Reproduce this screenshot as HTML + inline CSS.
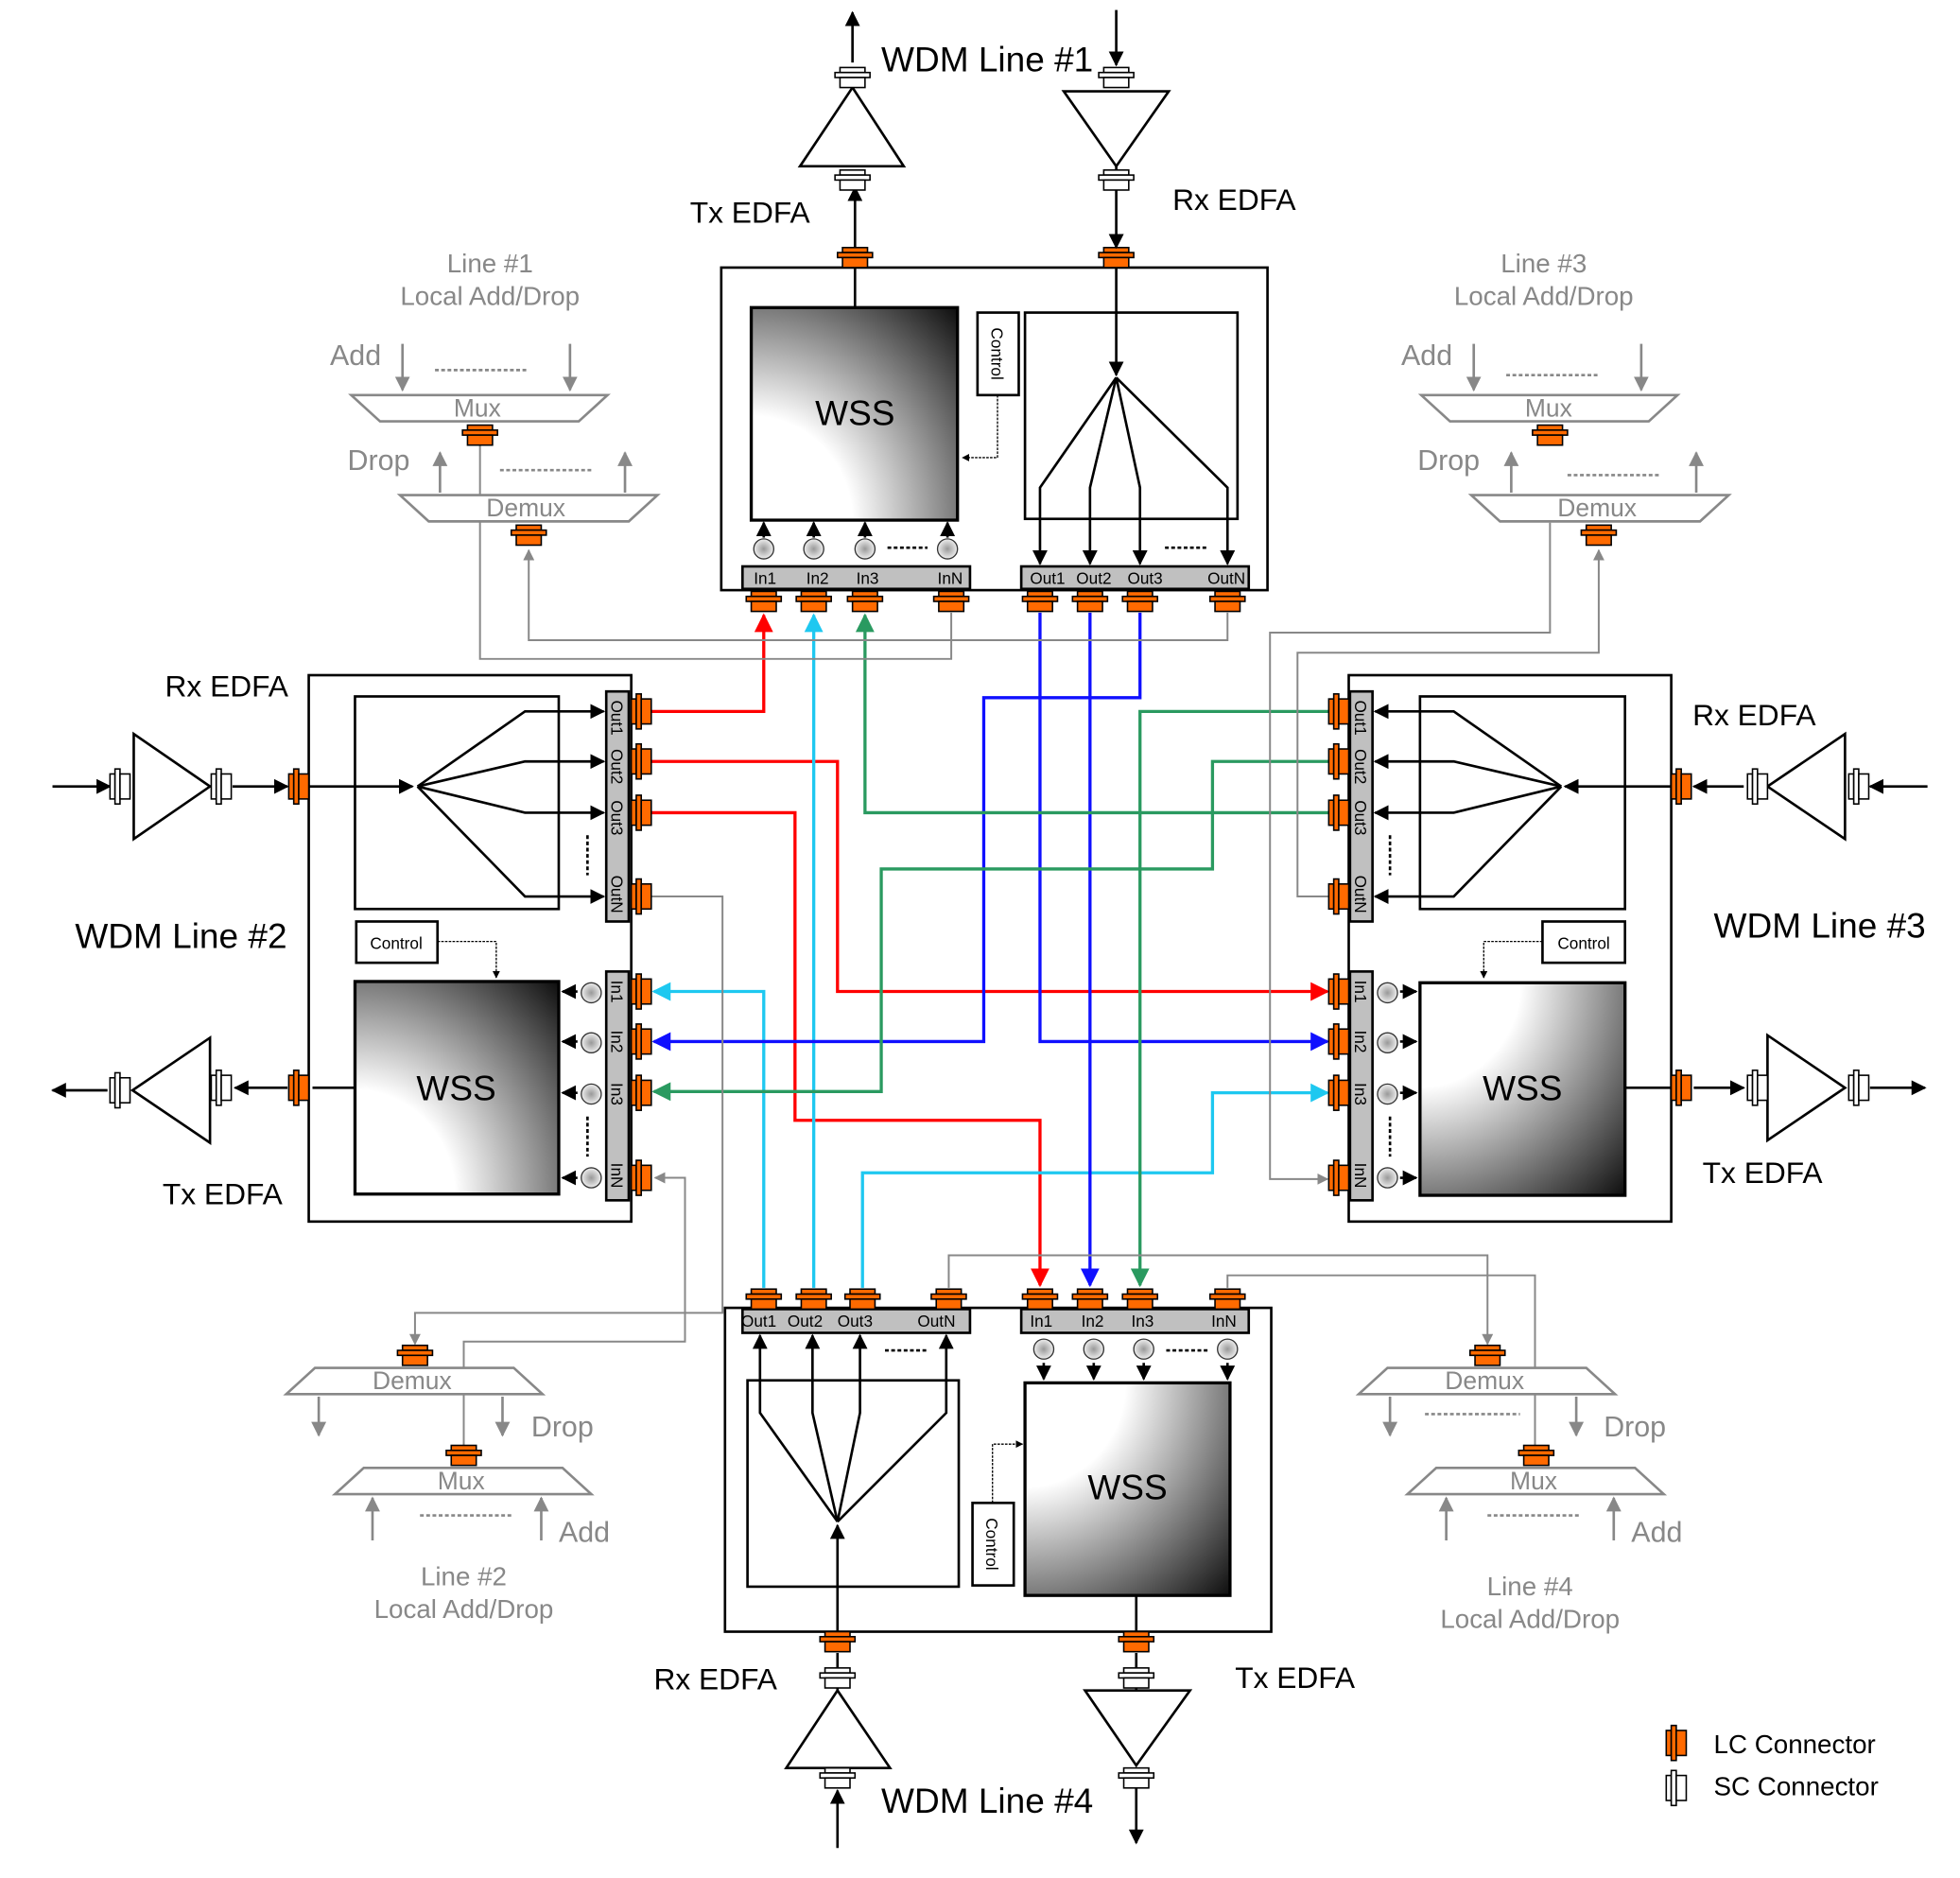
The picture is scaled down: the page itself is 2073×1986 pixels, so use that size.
<!DOCTYPE html>
<html><head><meta charset="utf-8"><style>
html,body{margin:0;padding:0;background:#fff}
svg{display:block}
text{font-family:"Liberation Sans",sans-serif}
</style></head><body>
<svg width="2073" height="1986" viewBox="0 0 1568 1502" preserveAspectRatio="none" xmlns="http://www.w3.org/2000/svg">
<defs>
<marker id="ak" viewBox="0 0 10 10" refX="9" refY="5" markerWidth="6" markerHeight="6" orient="auto"><path d="M0,0L10,5L0,10z" fill="#000"/></marker>
<marker id="ar" viewBox="0 0 10 10" refX="9" refY="5" markerWidth="6" markerHeight="6" orient="auto"><path d="M0,0L10,5L0,10z" fill="#ff0000"/></marker>
<marker id="ac" viewBox="0 0 10 10" refX="9" refY="5" markerWidth="6" markerHeight="6" orient="auto"><path d="M0,0L10,5L0,10z" fill="#1ec8f0"/></marker>
<marker id="ab" viewBox="0 0 10 10" refX="9" refY="5" markerWidth="6" markerHeight="6" orient="auto"><path d="M0,0L10,5L0,10z" fill="#1010ff"/></marker>
<marker id="ag" viewBox="0 0 10 10" refX="9" refY="5" markerWidth="6" markerHeight="6" orient="auto"><path d="M0,0L10,5L0,10z" fill="#2a9a60"/></marker>
<marker id="ay" viewBox="0 0 10 10" refX="9" refY="5" markerWidth="6" markerHeight="6" orient="auto"><path d="M0,0L10,5L0,10z" fill="#888"/></marker>
<radialGradient id="gTR" cx="0" cy="1" r="1.4"><stop offset="0.35" stop-color="#fff"/><stop offset="1" stop-color="#111"/></radialGradient>
<radialGradient id="gBR" cx="0" cy="0" r="1.4"><stop offset="0.35" stop-color="#fff"/><stop offset="1" stop-color="#111"/></radialGradient>
<radialGradient id="gc"><stop offset="0" stop-color="#999"/><stop offset="1" stop-color="#eee"/></radialGradient>
<g id="lcV"><rect x="-10" y="-8" width="20" height="4" fill="#ff6a00" stroke="#000" stroke-width="1.2"/><rect x="-14" y="-4" width="28" height="4" fill="#ff6a00" stroke="#000" stroke-width="1.2"/><rect x="-10" y="0" width="20" height="8" fill="#ff6a00" stroke="#000" stroke-width="1.2"/></g>
<g id="lcH"><rect x="-8" y="-10" width="4" height="20" fill="#ff6a00" stroke="#000" stroke-width="1.2"/><rect x="-4" y="-14" width="4" height="28" fill="#ff6a00" stroke="#000" stroke-width="1.2"/><rect x="0" y="-10" width="8" height="20" fill="#ff6a00" stroke="#000" stroke-width="1.2"/></g>
<g id="scV"><rect x="-10" y="-8" width="20" height="4" fill="#fff" stroke="#000" stroke-width="1.2"/><rect x="-14" y="-4" width="28" height="4" fill="#fff" stroke="#000" stroke-width="1.2"/><rect x="-10" y="0" width="20" height="8" fill="#fff" stroke="#000" stroke-width="1.2"/></g>
<g id="scH"><rect x="-8" y="-10" width="4" height="20" fill="#fff" stroke="#000" stroke-width="1.2"/><rect x="-4" y="-14" width="4" height="28" fill="#fff" stroke="#000" stroke-width="1.2"/><rect x="0" y="-10" width="8" height="20" fill="#fff" stroke="#000" stroke-width="1.2"/></g>
<g id="mon"><circle r="8" fill="url(#gc)" stroke="#333" stroke-width="1"/></g>
</defs>

<g fill="none" stroke-width="2.5">
<path d="M520,569H611V492" stroke="#ff0000" marker-end="url(#ar)"/>
<path d="M520,609H670V793H1062" stroke="#ff0000" marker-end="url(#ar)"/>
<path d="M520,650H636V896H832V1028" stroke="#ff0000" marker-end="url(#ar)"/>
<path d="M651,1030V492" stroke="#1ec8f0" marker-end="url(#ac)"/>
<path d="M611,1030V793H523" stroke="#1ec8f0" marker-end="url(#ac)"/>
<path d="M690,1030V938H970V874H1062" stroke="#1ec8f0" marker-end="url(#ac)"/>
<path d="M832,490V833H1062" stroke="#1010ff" marker-end="url(#ab)"/>
<path d="M872,490V1028" stroke="#1010ff" marker-end="url(#ab)"/>
<path d="M912,490V558H787V833H523" stroke="#1010ff" marker-end="url(#ab)"/>
<path d="M1063,569H912V1028" stroke="#2a9a60" marker-end="url(#ag)"/>
<path d="M1063,609H970V695H705V873H523" stroke="#2a9a60" marker-end="url(#ag)"/>
<path d="M1063,650H692V492" stroke="#2a9a60" marker-end="url(#ag)"/>
</g>
<g fill="none" stroke="#888" stroke-width="1.5">
<path d="M761,490V527H384V350"/>
<path d="M982,490V512H423V440" marker-end="url(#ay)"/>
<path d="M1240,418V506H1016V943H1062" marker-end="url(#ay)"/>
<path d="M1063,717H1038V522H1279V440" marker-end="url(#ay)"/>
<path d="M513,717H578V1050H332V1075" marker-end="url(#ay)"/>
<path d="M371,1160V1073H548V942H524" marker-end="url(#ay)"/>
<path d="M759,1030V1004H1190V1075" marker-end="url(#ay)"/>
<path d="M982,1030V1020H1228V1160"/>
</g>

<!-- TOP MODULE -->
<g fill="none" stroke="#000">
<rect x="577" y="214" width="437" height="258" stroke-width="2"/>
<line x1="684" y1="214" x2="684" y2="246" stroke-width="2"/>
<rect x="601" y="246" width="165" height="170" fill="url(#gTR)" stroke-width="2.5"/>
<rect x="782" y="250" width="33" height="66" fill="#fff" stroke-width="2"/>
<path d="M798,316V366H770" stroke-dasharray="2,1" marker-end="url(#ak)" stroke-width="1"/>
<rect x="820" y="250" width="170" height="165" stroke-width="2"/>
<path d="M893,214V300" stroke-width="2" marker-end="url(#ak)"/>
<g stroke-width="2">
<path d="M893,302L832,390V451" marker-end="url(#ak)"/>
<path d="M893,302L872,390V451" marker-end="url(#ak)"/>
<path d="M893,302L912,390V451" marker-end="url(#ak)"/>
<path d="M893,302L982,390V451" marker-end="url(#ak)"/>
<path d="M611,430V418" marker-end="url(#ak)"/>
<path d="M651,430V418" marker-end="url(#ak)"/>
<path d="M692,430V418" marker-end="url(#ak)"/>
<path d="M758,430V418" marker-end="url(#ak)"/>
</g>
<line x1="710" y1="438" x2="742" y2="438" stroke-width="2" stroke-dasharray="3,2"/>
<line x1="932" y1="438" x2="965" y2="438" stroke-width="2" stroke-dasharray="3,2"/>
<rect x="594" y="453" width="182" height="18" fill="#c0c0c0" stroke-width="2"/>
<rect x="817" y="453" width="182" height="18" fill="#c0c0c0" stroke-width="2"/>
</g>
<use href="#mon" x="611" y="439"/><use href="#mon" x="651" y="439"/><use href="#mon" x="692" y="439"/><use href="#mon" x="758" y="439"/>
<g font-size="13" fill="#000"><text x="603" y="467">In1</text><text x="645" y="467">In2</text><text x="685" y="467">In3</text><text x="750" y="467">InN</text>
<text x="824" y="467">Out1</text><text x="861" y="467">Out2</text><text x="902" y="467">Out3</text><text x="966" y="467">OutN</text></g>
<text x="684" y="340" font-size="28" text-anchor="middle">WSS</text>
<text transform="translate(793,262) rotate(90)" font-size="13">Control</text>
<use href="#lcV" x="611" y="481"/><use href="#lcV" x="651" y="481"/><use href="#lcV" x="692" y="481"/><use href="#lcV" x="761" y="481"/>
<use href="#lcV" x="832" y="481"/><use href="#lcV" x="872" y="481"/><use href="#lcV" x="912" y="481"/><use href="#lcV" x="982" y="481"/>
<use href="#lcV" x="684" y="206"/><use href="#lcV" x="893" y="206"/>
<g fill="none" stroke="#000" stroke-width="2">
<path d="M684,198V150" marker-end="url(#ak)"/>
<path d="M640,133H723L682,70Z" fill="#fff"/>
<path d="M682,50V10" marker-end="url(#ak)"/>
<path d="M893,8V52" marker-end="url(#ak)"/>
<path d="M851,73H935L893,133Z" fill="#fff"/>
<path d="M893,133V198" marker-end="url(#ak)"/>
</g>
<use href="#scV" x="682" y="62"/><use href="#scV" x="682" y="144"/><use href="#scV" x="893" y="62"/><use href="#scV" x="893" y="144"/>
<text x="705" y="57" font-size="28">WDM Line #1</text>
<text x="552" y="178" font-size="24">Tx EDFA</text>
<text x="938" y="168" font-size="24">Rx EDFA</text>

<!-- LEFT MODULE -->
<g fill="none" stroke="#000" stroke-width="2">
<rect x="247" y="540" width="258" height="437"/>
<rect x="284" y="557" width="163" height="170"/>
<rect x="284" y="785" width="163" height="170" fill="url(#gTR)" stroke-width="2.5"/>
<rect x="285" y="737" width="65" height="33" fill="#fff"/>
<path d="M350,753H397V782" stroke-width="1" stroke-dasharray="2,1" marker-end="url(#ak)"/>
<path d="M247,629H330" marker-end="url(#ak)"/>
<path d="M334,629L420,569H483" marker-end="url(#ak)"/>
<path d="M334,629L420,609H483" marker-end="url(#ak)"/>
<path d="M334,629L420,650H483" marker-end="url(#ak)"/>
<path d="M334,629L420,717H483" marker-end="url(#ak)"/>
<path d="M462,793H450" marker-end="url(#ak)"/>
<path d="M462,833H450" marker-end="url(#ak)"/>
<path d="M462,874H450" marker-end="url(#ak)"/>
<path d="M462,942H450" marker-end="url(#ak)"/>
<line x1="470" y1="668" x2="470" y2="700" stroke-dasharray="3,2"/>
<line x1="470" y1="893" x2="470" y2="925" stroke-dasharray="3,2"/>
<rect x="485" y="553" width="18" height="184" fill="#c0c0c0"/>
<rect x="485" y="777" width="18" height="183" fill="#c0c0c0"/>
<path d="M284,870H250"/>
</g>
<use href="#mon" x="473" y="794"/><use href="#mon" x="473" y="834"/><use href="#mon" x="473" y="875"/><use href="#mon" x="473" y="942"/>
<g font-size="13"><text transform="translate(489,560) rotate(90)">Out1</text><text transform="translate(489,599) rotate(90)">Out2</text><text transform="translate(489,640) rotate(90)">Out3</text><text transform="translate(489,700) rotate(90)">OutN</text>
<text transform="translate(489,784) rotate(90)">In1</text><text transform="translate(489,824) rotate(90)">In2</text><text transform="translate(489,866) rotate(90)">In3</text><text transform="translate(489,930) rotate(90)">InN</text></g>
<text x="365" y="880" font-size="28" text-anchor="middle">WSS</text>
<text x="317" y="759" font-size="13" text-anchor="middle">Control</text>
<use href="#lcH" x="513" y="569"/><use href="#lcH" x="513" y="609"/><use href="#lcH" x="513" y="650"/><use href="#lcH" x="513" y="717"/>
<use href="#lcH" x="513" y="793"/><use href="#lcH" x="513" y="833"/><use href="#lcH" x="513" y="874"/><use href="#lcH" x="513" y="942"/>
<use href="#lcH" x="239" y="629"/><use href="#lcH" x="239" y="870"/>
<g fill="none" stroke="#000" stroke-width="2">
<path d="M42,629H88" marker-end="url(#ak)"/>
<path d="M107,587V671L168,629Z" fill="#fff"/>
<path d="M186,629H230" marker-end="url(#ak)"/>
<path d="M230,870H188" marker-end="url(#ak)"/>
<path d="M168,830V914L106,872Z" fill="#fff"/>
<path d="M86,872H42" marker-end="url(#ak)"/>
</g>
<use href="#scH" x="96" y="629"/><use href="#scH" x="177" y="629"/><use href="#scH" x="96" y="872"/><use href="#scH" x="177" y="870"/>
<text x="132" y="557" font-size="24">Rx EDFA</text>
<text x="130" y="963" font-size="24">Tx EDFA</text>
<text x="60" y="758" font-size="28">WDM Line #2</text>

<!-- RIGHT MODULE -->
<g fill="none" stroke="#000" stroke-width="2">
<rect x="1079" y="540" width="258" height="437"/>
<rect x="1136" y="557" width="164" height="170"/>
<rect x="1136" y="786" width="164" height="170" fill="url(#gBR)" stroke-width="2.5"/>
<rect x="1234" y="737" width="66" height="33" fill="#fff"/>
<path d="M1234,753H1187V782" stroke-width="1" stroke-dasharray="2,1" marker-end="url(#ak)"/>
<path d="M1337,629H1252" marker-end="url(#ak)"/>
<path d="M1249,629L1163,569H1100" marker-end="url(#ak)"/>
<path d="M1249,629L1163,609H1100" marker-end="url(#ak)"/>
<path d="M1249,629L1163,650H1100" marker-end="url(#ak)"/>
<path d="M1249,629L1163,717H1100" marker-end="url(#ak)"/>
<path d="M1120,793H1133" marker-end="url(#ak)"/>
<path d="M1120,833H1133" marker-end="url(#ak)"/>
<path d="M1120,874H1133" marker-end="url(#ak)"/>
<path d="M1120,942H1133" marker-end="url(#ak)"/>
<line x1="1112" y1="668" x2="1112" y2="700" stroke-dasharray="3,2"/>
<line x1="1112" y1="893" x2="1112" y2="925" stroke-dasharray="3,2"/>
<rect x="1080" y="553" width="18" height="184" fill="#c0c0c0"/>
<rect x="1080" y="777" width="18" height="183" fill="#c0c0c0"/>
<path d="M1300,870H1337"/>
</g>
<use href="#mon" x="1110" y="794"/><use href="#mon" x="1110" y="834"/><use href="#mon" x="1110" y="875"/><use href="#mon" x="1110" y="942"/>
<g font-size="13"><text transform="translate(1084,560) rotate(90)">Out1</text><text transform="translate(1084,599) rotate(90)">Out2</text><text transform="translate(1084,640) rotate(90)">Out3</text><text transform="translate(1084,700) rotate(90)">OutN</text>
<text transform="translate(1084,784) rotate(90)">In1</text><text transform="translate(1084,824) rotate(90)">In2</text><text transform="translate(1084,866) rotate(90)">In3</text><text transform="translate(1084,930) rotate(90)">InN</text></g>
<text x="1218" y="880" font-size="28" text-anchor="middle">WSS</text>
<text x="1267" y="759" font-size="13" text-anchor="middle">Control</text>
<use href="#lcH" x="1071" y="569"/><use href="#lcH" x="1071" y="609"/><use href="#lcH" x="1071" y="650"/><use href="#lcH" x="1071" y="717"/>
<use href="#lcH" x="1071" y="793"/><use href="#lcH" x="1071" y="833"/><use href="#lcH" x="1071" y="874"/><use href="#lcH" x="1071" y="942"/>
<use href="#lcH" x="1345" y="629"/><use href="#lcH" x="1345" y="870"/>
<g fill="none" stroke="#000" stroke-width="2">
<path d="M1542,629H1496" marker-end="url(#ak)"/>
<path d="M1476,587V671L1414,629Z" fill="#fff"/>
<path d="M1395,629H1355" marker-end="url(#ak)"/>
<path d="M1355,870H1395" marker-end="url(#ak)"/>
<path d="M1414,828V912L1476,870Z" fill="#fff"/>
<path d="M1496,870H1540" marker-end="url(#ak)"/>
</g>
<use href="#scH" x="1487" y="629"/><use href="#scH" x="1406" y="629"/><use href="#scH" x="1406" y="870"/><use href="#scH" x="1487" y="870"/>
<text x="1354" y="580" font-size="24">Rx EDFA</text>
<text x="1362" y="946" font-size="24">Tx EDFA</text>
<text x="1371" y="750" font-size="28">WDM Line #3</text>

<!-- BOTTOM MODULE -->
<g fill="none" stroke="#000" stroke-width="2">
<rect x="580" y="1046" width="437" height="259"/>
<rect x="598" y="1104" width="169" height="165"/>
<rect x="820" y="1106" width="164" height="170" fill="url(#gBR)" stroke-width="2.5"/>
<rect x="778" y="1202" width="33" height="66" fill="#fff"/>
<path d="M794,1202V1155H818" stroke-width="1" stroke-dasharray="2,1" marker-end="url(#ak)"/>
<path d="M670,1305V1220" marker-end="url(#ak)"/>
<path d="M670,1217L608,1130V1068" marker-end="url(#ak)"/>
<path d="M670,1217L650,1130V1068" marker-end="url(#ak)"/>
<path d="M670,1217L688,1130V1068" marker-end="url(#ak)"/>
<path d="M670,1217L757,1130V1068" marker-end="url(#ak)"/>
<path d="M835,1090V1103" marker-end="url(#ak)"/>
<path d="M875,1090V1103" marker-end="url(#ak)"/>
<path d="M915,1090V1103" marker-end="url(#ak)"/>
<path d="M982,1090V1103" marker-end="url(#ak)"/>
<line x1="708" y1="1080" x2="742" y2="1080" stroke-dasharray="3,2"/>
<line x1="933" y1="1080" x2="966" y2="1080" stroke-dasharray="3,2"/>
<rect x="594" y="1047" width="182" height="19" fill="#c0c0c0"/>
<rect x="817" y="1047" width="182" height="19" fill="#c0c0c0"/>
<path d="M909,1276V1305"/>
</g>
<use href="#mon" x="835" y="1079"/><use href="#mon" x="875" y="1079"/><use href="#mon" x="915" y="1079"/><use href="#mon" x="982" y="1079"/>
<g font-size="13"><text x="593" y="1061">Out1</text><text x="630" y="1061">Out2</text><text x="670" y="1061">Out3</text><text x="734" y="1061">OutN</text>
<text x="824" y="1061">In1</text><text x="865" y="1061">In2</text><text x="905" y="1061">In3</text><text x="969" y="1061">InN</text></g>
<text x="902" y="1199" font-size="28" text-anchor="middle">WSS</text>
<text transform="translate(789,1214) rotate(90)" font-size="13">Control</text>
<use href="#lcV" x="611" y="1039"/><use href="#lcV" x="651" y="1039"/><use href="#lcV" x="690" y="1039"/><use href="#lcV" x="759" y="1039"/>
<use href="#lcV" x="832" y="1039"/><use href="#lcV" x="872" y="1039"/><use href="#lcV" x="912" y="1039"/><use href="#lcV" x="982" y="1039"/>
<use href="#lcV" x="670" y="1313"/><use href="#lcV" x="909" y="1313"/>
<g fill="none" stroke="#000" stroke-width="2">
<path d="M670,1478V1432" marker-end="url(#ak)"/>
<path d="M629,1414H712L670,1352Z" fill="#fff"/>
<path d="M670,1352V1322"/>
<path d="M909,1322V1352"/>
<path d="M868,1352H952L909,1412Z" fill="#fff"/>
<path d="M909,1430V1474" marker-end="url(#ak)"/>
</g>
<use href="#scV" x="670" y="1342"/><use href="#scV" x="670" y="1422"/><use href="#scV" x="909" y="1342"/><use href="#scV" x="909" y="1422"/>
<text x="523" y="1351" font-size="24">Rx EDFA</text>
<text x="988" y="1350" font-size="24">Tx EDFA</text>
<text x="705" y="1450" font-size="28">WDM Line #4</text>

<!-- ADD/DROP GROUPS -->
<g fill="#fff" stroke="#888" stroke-width="2">
<path d="M281,316H486L463,337H304Z"/><path d="M320,396H526L503,417H343Z"/>
<g fill="none"><path d="M322,275V312" marker-end="url(#ay)"/><path d="M456,275V312" marker-end="url(#ay)"/><path d="M352,394V362" marker-end="url(#ay)"/><path d="M500,394V362" marker-end="url(#ay)"/></g>
<path d="M348,296H422M400,376H474" fill="none" stroke-dasharray="3,2"/>
</g>
<use href="#lcV" x="384" y="348"/><use href="#lcV" x="423" y="428"/>
<g fill="#888" font-size="20"><text x="363" y="333">Mux</text><text x="389" y="413">Demux</text>
<text x="264" y="292" font-size="23">Add</text><text x="278" y="376" font-size="23">Drop</text>
<text x="392" y="218" font-size="21" text-anchor="middle">Line #1</text><text x="392" y="244" font-size="21" text-anchor="middle">Local Add/Drop</text></g>

<g fill="#fff" stroke="#888" stroke-width="2">
<path d="M1137,316H1342L1319,337H1160Z"/><path d="M1177,396H1383L1360,417H1200Z"/>
<g fill="none"><path d="M1179,275V312" marker-end="url(#ay)"/><path d="M1313,275V312" marker-end="url(#ay)"/><path d="M1209,394V362" marker-end="url(#ay)"/><path d="M1357,394V362" marker-end="url(#ay)"/></g>
<path d="M1205,300H1280M1254,380H1328" fill="none" stroke-dasharray="3,2"/>
</g>
<use href="#lcV" x="1240" y="348"/><use href="#lcV" x="1279" y="428"/>
<g fill="#888" font-size="20"><text x="1220" y="333">Mux</text><text x="1246" y="413">Demux</text>
<text x="1121" y="292" font-size="23">Add</text><text x="1134" y="376" font-size="23">Drop</text>
<text x="1235" y="218" font-size="21" text-anchor="middle">Line #3</text><text x="1235" y="244" font-size="21" text-anchor="middle">Local Add/Drop</text></g>

<g fill="#fff" stroke="#888" stroke-width="2">
<path d="M229,1115H434L411,1094H252Z"/><path d="M268,1195H473L450,1174H291Z"/>
<g fill="none"><path d="M255,1117V1148" marker-end="url(#ay)"/><path d="M402,1117V1148" marker-end="url(#ay)"/><path d="M298,1232V1198" marker-end="url(#ay)"/><path d="M433,1232V1198" marker-end="url(#ay)"/></g>
<path d="M336,1212H411" fill="none" stroke-dasharray="3,2"/>
</g>
<use href="#lcV" x="332" y="1084"/><use href="#lcV" x="371" y="1164"/>
<g fill="#888" font-size="20"><text x="298" y="1111">Demux</text><text x="350" y="1191">Mux</text>
<text x="425" y="1149" font-size="23">Drop</text><text x="447" y="1233" font-size="23">Add</text>
<text x="371" y="1268" font-size="21" text-anchor="middle">Line #2</text><text x="371" y="1294" font-size="21" text-anchor="middle">Local Add/Drop</text></g>

<g fill="#fff" stroke="#888" stroke-width="2">
<path d="M1087,1115H1292L1269,1094H1110Z"/><path d="M1126,1195H1331L1308,1174H1149Z"/>
<g fill="none"><path d="M1112,1117V1148" marker-end="url(#ay)"/><path d="M1261,1117V1148" marker-end="url(#ay)"/><path d="M1157,1232V1198" marker-end="url(#ay)"/><path d="M1291,1232V1198" marker-end="url(#ay)"/></g>
<path d="M1140,1131H1216M1190,1212H1264" fill="none" stroke-dasharray="3,2"/>
</g>
<use href="#lcV" x="1190" y="1084"/><use href="#lcV" x="1229" y="1164"/>
<g fill="#888" font-size="20"><text x="1156" y="1111">Demux</text><text x="1208" y="1191">Mux</text>
<text x="1283" y="1149" font-size="23">Drop</text><text x="1305" y="1233" font-size="23">Add</text>
<text x="1224" y="1276" font-size="21" text-anchor="middle">Line #4</text><text x="1224" y="1302" font-size="21" text-anchor="middle">Local Add/Drop</text></g>

<g>
<use href="#lcH" x="1341" y="1394"/>
<use href="#scH" x="1341" y="1430"/>
<text x="1371" y="1402" font-size="21">LC Connector</text>
<text x="1371" y="1436" font-size="21">SC Connector</text>
</g>
</svg>
</body></html>
